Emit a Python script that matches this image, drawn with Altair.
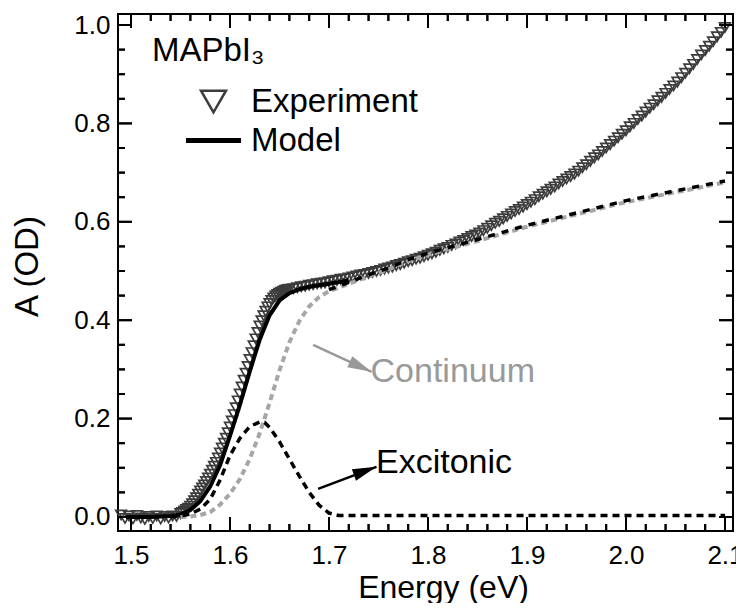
import altair as alt
import pandas as pd

FONT = "Liberation Sans"
W, H = 615, 517
MAJOR_LEN, MINOR_LEN = 14, 7

# ---------------- data ----------------
exp_energy = [
    1.490, 1.494, 1.498, 1.502, 1.506, 1.510, 1.514, 1.518, 1.522, 1.526,
    1.530, 1.534, 1.538, 1.542, 1.546,
    1.550, 1.552, 1.554, 1.556, 1.558, 1.560, 1.562, 1.564, 1.566, 1.568,
    1.570, 1.572, 1.574, 1.576, 1.578, 1.580, 1.582, 1.584, 1.586, 1.588,
    1.590, 1.592, 1.594, 1.596, 1.598, 1.600, 1.602, 1.604, 1.606, 1.608,
    1.610, 1.612, 1.614, 1.616, 1.618, 1.620, 1.622, 1.624, 1.626, 1.628,
    1.630, 1.632, 1.634, 1.636, 1.638, 1.640, 1.642, 1.644, 1.646, 1.648,
    1.650, 1.652, 1.654, 1.656, 1.658, 1.660,
    1.664, 1.668, 1.672, 1.676, 1.680, 1.684, 1.688, 1.692, 1.696, 1.700,
    1.704, 1.708, 1.712, 1.716, 1.720, 1.724, 1.728, 1.732, 1.736, 1.740,
    1.744, 1.748, 1.752, 1.756, 1.760, 1.764, 1.768, 1.772, 1.776, 1.780,
    1.784, 1.788, 1.792, 1.796, 1.800, 1.804, 1.808, 1.812, 1.816, 1.820,
    1.824, 1.828, 1.832, 1.836, 1.840, 1.844, 1.848, 1.852, 1.856, 1.860,
    1.864, 1.868, 1.872, 1.876, 1.880, 1.884, 1.888, 1.892, 1.896, 1.900,
    1.904, 1.908, 1.912, 1.916, 1.920, 1.924, 1.928, 1.932, 1.936, 1.940,
    1.944, 1.948, 1.952, 1.956, 1.960, 1.964, 1.968, 1.972, 1.976, 1.980,
    1.984, 1.988, 1.992, 1.996, 2.000, 2.004, 2.008, 2.012, 2.016, 2.020,
    2.024, 2.028, 2.032, 2.036, 2.040, 2.044, 2.048, 2.052, 2.056, 2.060,
    2.064, 2.068, 2.072, 2.076, 2.080, 2.084, 2.088, 2.092, 2.096, 2.100,
]
exp_abs = [
    0.004, -0.003, 0.002, -0.004, 0.003, -0.002, -0.005, 0.001, -0.003, 0.002,
    -0.004, 0.001, -0.002, 0.002, 0.001,
    0.007, 0.009, 0.012, 0.015, 0.018, 0.022, 0.027, 0.033, 0.039, 0.046,
    0.053, 0.059, 0.065, 0.072, 0.079, 0.087, 0.095, 0.103, 0.111, 0.120,
    0.130, 0.140, 0.150, 0.160, 0.171, 0.183, 0.195, 0.208, 0.222, 0.236,
    0.250, 0.264, 0.278, 0.292, 0.306, 0.320, 0.334, 0.348, 0.362, 0.375,
    0.388, 0.399, 0.409, 0.418, 0.427, 0.434, 0.440, 0.445, 0.449, 0.452,
    0.455, 0.457, 0.459, 0.461, 0.462, 0.463,
    0.464, 0.466, 0.468, 0.469, 0.471, 0.472, 0.474, 0.475, 0.476, 0.478,
    0.480, 0.481, 0.483, 0.484, 0.486, 0.488, 0.490, 0.492, 0.493, 0.495,
    0.497, 0.499, 0.501, 0.504, 0.506, 0.508, 0.511, 0.513, 0.516, 0.519,
    0.521, 0.524, 0.526, 0.529, 0.532, 0.535, 0.538, 0.542, 0.545, 0.548,
    0.552, 0.555, 0.559, 0.562, 0.566, 0.570, 0.573, 0.577, 0.582, 0.587,
    0.592, 0.597, 0.601, 0.606, 0.611, 0.616, 0.621, 0.625, 0.630, 0.635,
    0.640, 0.645, 0.651, 0.656, 0.661, 0.666, 0.671, 0.677, 0.682, 0.687,
    0.692, 0.697, 0.703, 0.710, 0.716, 0.723, 0.730, 0.736, 0.743, 0.750,
    0.757, 0.764, 0.771, 0.778, 0.785, 0.793, 0.800, 0.808, 0.815, 0.823,
    0.831, 0.838, 0.846, 0.853, 0.861, 0.869, 0.876, 0.884, 0.893, 0.902,
    0.911, 0.920, 0.930, 0.939, 0.948, 0.957, 0.966, 0.976, 0.985, 0.995,
]

model_energy = [1.495, 1.50, 1.52, 1.54, 1.55, 1.56, 1.57, 1.58, 1.59, 1.60,
                1.61, 1.62, 1.63, 1.64, 1.65, 1.66, 1.67, 1.68, 1.69, 1.70, 1.72]
model_abs = [0.000, 0.000, 0.000, 0.002, 0.005, 0.014, 0.032, 0.062, 0.105, 0.165,
             0.228, 0.296, 0.360, 0.410, 0.440, 0.455, 0.463, 0.468, 0.471, 0.474, 0.481]

cont_energy = [1.55, 1.56, 1.57, 1.58, 1.59, 1.60, 1.61, 1.62, 1.63, 1.64, 1.65,
               1.66, 1.67, 1.68, 1.69, 1.70, 1.72, 1.74, 1.76, 1.78, 1.80, 1.85,
               1.90, 1.95, 2.00, 2.05, 2.10]
cont_abs = [0.000, 0.001, 0.004, 0.010, 0.025, 0.047, 0.077, 0.118, 0.170, 0.232, 0.298,
            0.355, 0.398, 0.428, 0.447, 0.459, 0.474, 0.489, 0.503, 0.520, 0.533, 0.561,
            0.590, 0.615, 0.640, 0.660, 0.680]

ext_energy = [1.70, 1.72, 1.74, 1.76, 1.78, 1.80, 1.85, 1.90, 1.95, 2.00, 2.05, 2.10]
ext_abs = [0.462, 0.477, 0.492, 0.506, 0.523, 0.536, 0.564, 0.593, 0.618, 0.643, 0.663, 0.683]

exc_energy = [1.54, 1.55, 1.56, 1.57, 1.58, 1.59, 1.60, 1.61, 1.62, 1.63, 1.635, 1.64,
              1.65, 1.66, 1.67, 1.68, 1.69, 1.70, 1.71, 1.75, 1.80, 1.90, 2.00, 2.10]
exc_abs = [0.000, 0.002, 0.006, 0.016, 0.036, 0.075, 0.125, 0.160, 0.184, 0.193, 0.192, 0.182,
           0.153, 0.118, 0.083, 0.050, 0.024, 0.008, 0.003, 0.003, 0.003, 0.003, 0.003, 0.003]

series_names = ["Experiment", "Model"]
legend_title = "MAPbI\u2083"
x_title = "Energy (eV)"
y_title = "A (OD)"

# annotations (data coordinates)
cont_label = "Continuum"
cont_label_pos = [1.742, 0.274]
cont_arrow = [1.684, 0.350, 1.743, 0.295]
exc_label = "Excitonic"
exc_label_pos = [1.7475, 0.089]
exc_arrow = [1.689, 0.057, 1.748, 0.102]

x_major = [1.5, 1.6, 1.7, 1.8, 1.9, 2.0, 2.1]
x_minor = [1.52, 1.54, 1.56, 1.58, 1.62, 1.64, 1.66, 1.68, 1.72, 1.74, 1.76, 1.78,
           1.82, 1.84, 1.86, 1.88, 1.92, 1.94, 1.96, 1.98, 2.02, 2.04, 2.06, 2.08]
y_major = [0.0, 0.2, 0.4, 0.6, 0.8, 1.0]
y_minor = [0.05, 0.1, 0.15, 0.25, 0.3, 0.35, 0.45, 0.5, 0.55, 0.65, 0.7, 0.75, 0.85, 0.9, 0.95]

# ---------------- frames ----------------
exp_df = pd.DataFrame({"E": exp_energy, "A": exp_abs, "series": "Experiment"})
model_df = pd.DataFrame({"E": model_energy, "A": model_abs})
cont_df = pd.DataFrame({"E": cont_energy, "A": cont_abs})
ext_df = pd.DataFrame({"E": ext_energy, "A": ext_abs})
exc_df = pd.DataFrame({"E": exc_energy, "A": exc_abs})
cont_arrow_df = pd.DataFrame({"E": [cont_arrow[0]], "A": [cont_arrow[1]],
                              "E2": [cont_arrow[2]], "A2": [cont_arrow[3]]})
exc_arrow_df = pd.DataFrame({"E": [exc_arrow[0]], "A": [exc_arrow[1]],
                             "E2": [exc_arrow[2]], "A2": [exc_arrow[3]]})
cont_head_df = pd.DataFrame({"E": [cont_arrow[2]], "A": [cont_arrow[3]]})
exc_head_df = pd.DataFrame({"E": [exc_arrow[2]], "A": [exc_arrow[3]]})
cont_text_df = pd.DataFrame({"E": [cont_label_pos[0]], "A": [cont_label_pos[1]], "t": [cont_label]})
exc_text_df = pd.DataFrame({"E": [exc_label_pos[0]], "A": [exc_label_pos[1]], "t": [exc_label]})

X_LO, X_HI = 1.4869, 2.1081
Y_LO, Y_HI = -0.0285, 1.0224
x_scale = alt.Scale(domain=[X_LO, X_HI], nice=False, zero=False)
y_scale = alt.Scale(domain=[Y_LO, Y_HI], nice=False, zero=False)

x_axis = alt.Axis(orient="bottom", values=x_major, format=".1f", ticks=False, tickSize=0,
                  domain=False, grid=False, labelFont=FONT, labelFontSize=26,
                  labelColor="black", labelPadding=11, labelFlush=False,
                  titleFont=FONT, titleFontSize=32, titleFontWeight="normal",
                  titleColor="black", titleX=325, titleY=66,
                  titleBaseline="alphabetic", titleAlign="center")
y_axis = alt.Axis(orient="left", values=y_major, format=".1f", ticks=False, tickSize=0,
                  domain=False, grid=False, labelFont=FONT, labelFontSize=26,
                  labelColor="black", labelPadding=8,
                  titleFont=FONT, titleFontSize=33, titleFontWeight="normal",
                  titleColor="black", titleAngle=270, titleX=-81, titleY=252,
                  titleBaseline="alphabetic", titleAlign="center")


def X(field="E:Q"):
    # every layer shares one identical x axis definition
    return alt.X(field, scale=x_scale, title=x_title, axis=x_axis)


def Y(field="A:Q"):
    return alt.Y(field, scale=y_scale, title=y_title, axis=y_axis)


MODEL_SYMBOL = "M-2.1,-0.1H2.1V0.1H-2.1Z"
ARROW_HEAD = "M0,0L-0.5,2L0.5,2Z"

legend = alt.Legend(title=legend_title, orient="none", legendX=34, legendY=21, padding=0,
                    titleFont=FONT, titleFontSize=33, titleFontWeight="normal",
                    titleColor="black", titlePadding=17, titleLimit=0,
                    labelFont=FONT, labelFontSize=33, labelColor="black", labelLimit=0,
                    symbolSize=625, symbolStrokeWidth=2.5, symbolOffset=45,
                    labelOffset=21, rowPadding=5)

exp_layer = alt.Chart(exp_df).mark_point(filled=False, opacity=1, size=115, strokeWidth=1.7).encode(
    x=X(), y=Y(),
    color=alt.Color("series:N", scale=alt.Scale(domain=series_names, range=["#3c3c3c", "#000000"]),
                    legend=legend),
    shape=alt.Shape("series:N", scale=alt.Scale(domain=series_names,
                                                range=["triangle-down", MODEL_SYMBOL]),
                    legend=legend),
)


def line_layer(df, color, width, dash=None):
    kw = dict(color=color, strokeWidth=width)
    if dash:
        kw["strokeDash"] = dash
    return alt.Chart(df).mark_line(**kw).encode(x=X(), y=Y())


model_layer = line_layer(model_df, "black", 4)
cont_layer = line_layer(cont_df, "#a6a6a6", 4, [6, 4])
ext_layer = line_layer(ext_df, "black", 3.5, [7, 7])
exc_layer = line_layer(exc_df, "black", 3.5, [7, 5])


def segment_layer(df, color, width):
    return alt.Chart(df).mark_rule(color=color, strokeWidth=width).encode(
        x=X(), y=Y(), x2="E2:Q", y2="A2:Q")


def arrow_layers(line_df, head_df, color, angle):
    line = segment_layer(line_df, color, 2.5)
    head = alt.Chart(head_df).mark_point(shape=ARROW_HEAD, filled=True, opacity=1, size=576,
                                         color=color, angle=angle, strokeWidth=0).encode(
        x=X(), y=Y())
    return line, head


cont_line, cont_head = arrow_layers(cont_arrow_df, cont_head_df, "#999999", 115)
exc_line, exc_head = arrow_layers(exc_arrow_df, exc_head_df, "black", 70)


def text_layer(df, color):
    return alt.Chart(df).mark_text(align="left", baseline="alphabetic", font=FONT,
                                   fontSize=34, color=color).encode(
        x=X(), y=Y(), text="t:N")


# ---- inward tick marks on all four sides of the frame ----
# (a) short line symbols anchored on each side at the tick values
UP, DOWN, RIGHT, LEFT = "M0,0V-2", "M0,0V2", "M0,0H2", "M0,0H-2"


def symbol_ticks(xs, ys, length):
    size = length * length
    side_defs = [
        (pd.DataFrame({"E": xs, "A": [Y_LO] * len(xs)}), UP),
        (pd.DataFrame({"E": xs, "A": [Y_HI] * len(xs)}), DOWN),
        (pd.DataFrame({"E": [X_LO] * len(ys), "A": ys}), RIGHT),
        (pd.DataFrame({"E": [X_HI] * len(ys), "A": ys}), LEFT),
    ]
    return [alt.Chart(d).mark_point(shape=p, size=size, filled=False, opacity=1,
                                    color="black", strokeWidth=2).encode(x=X(), y=Y())
            for d, p in side_defs]


# (b) the same ticks as short segments (identical geometry)
def tick_frame(xs, ys, length):
    dx = length * (X_HI - X_LO) / W
    dy = length * (Y_HI - Y_LO) / H
    rows = []
    for v in xs:
        rows.append((v, Y_LO, v, Y_LO + dy))
        rows.append((v, Y_HI, v, Y_HI - dy))
    for v in ys:
        rows.append((X_LO, v, X_LO + dx, v))
        rows.append((X_HI, v, X_HI - dx, v))
    return pd.DataFrame(rows, columns=["E", "A", "E2", "A2"])


tick_layers = (symbol_ticks(x_major, y_major, MAJOR_LEN)
               + symbol_ticks(x_minor, y_minor, MINOR_LEN)
               + [segment_layer(tick_frame(x_major, y_major, MAJOR_LEN), "black", 2),
                  segment_layer(tick_frame(x_minor, y_minor, MINOR_LEN), "black", 2)])

chart = alt.layer(
    exp_layer, *tick_layers,
    model_layer, cont_layer, ext_layer, exc_layer,
    cont_line, cont_head, exc_line, exc_head,
    text_layer(cont_text_df, "#999999"), text_layer(exc_text_df, "black"),
).properties(
    width=W, height=H,
    autosize=alt.AutoSizeParams(type="none"),
    padding={"left": 110, "top": 6, "right": 3, "bottom": 72},
).configure(font=FONT).configure_view(stroke="black", strokeWidth=2)

chart.save("out.html", embed_options={"renderer": "svg", "actions": False})
